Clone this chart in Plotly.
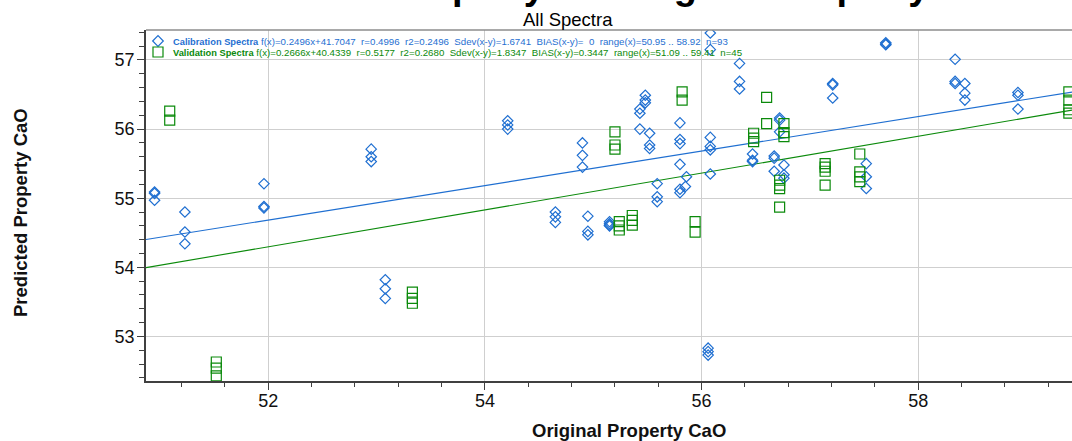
import plotly.graph_objects as go

# Calibration set: original (reference) CaO vs predicted CaO
cal_x = [50.95, 50.95, 50.95, 51.23, 51.23, 51.23, 51.96, 51.96, 51.96,
         52.95, 52.95, 52.95, 53.08, 53.08, 53.08, 54.21, 54.21, 54.21,
         54.65, 54.65, 54.65, 54.90, 54.90, 54.90, 54.95, 54.95, 54.95,
         55.15, 55.15, 55.15, 55.15, 55.43, 55.43, 55.43, 55.48, 55.48, 55.48,
         55.52, 55.52, 55.52, 55.59, 55.59, 55.59, 55.80, 55.80, 55.80, 55.80,
         55.86, 55.85, 55.80, 55.80, 56.06, 56.06, 56.06,
         56.08, 56.08, 56.08, 56.08, 56.08, 56.08, 56.35, 56.35, 56.35,
         56.47, 56.47, 56.47, 56.67, 56.67, 56.67, 56.72, 56.72, 56.72,
         56.76, 56.76, 56.76, 57.21, 57.21, 57.21, 57.52, 57.52, 57.52,
         57.70, 57.70, 57.70, 58.34, 58.34, 58.34, 58.43, 58.43, 58.43,
         58.92, 58.92, 58.92]
cal_y = [55.09, 55.07, 54.97, 54.80, 54.51, 54.34, 55.21, 54.88, 54.86,
         55.71, 55.60, 55.53, 53.82, 53.69, 53.55, 56.12, 56.06, 56.00,
         54.80, 54.73, 54.65, 55.80, 55.62, 55.45, 54.74, 54.52, 54.47,
         54.66, 54.63, 54.61, 54.60, 56.29, 56.23, 56.00, 56.49, 56.42, 56.38,
         55.94, 55.77, 55.72, 55.21, 55.02, 54.95, 56.09, 55.85, 55.79, 55.49,
         55.31, 55.17, 55.13, 55.08, 52.83, 52.78, 52.73,
         57.39, 57.15, 55.88, 55.75, 55.70, 55.35, 56.95, 56.69, 56.58,
         55.64, 55.55, 55.53, 55.61, 55.58, 55.39, 56.16, 56.13, 55.96,
         55.48, 55.34, 55.29, 56.66, 56.64, 56.45, 55.50, 55.31, 55.14,
         57.25, 57.23, 57.22, 57.01, 56.69, 56.66, 56.66, 56.52, 56.42,
         56.53, 56.49, 56.29]

# Validation set
val_x = [51.09, 51.09, 51.52, 51.52, 51.52, 53.33, 53.33, 53.33,
         55.20, 55.20, 55.20, 55.24, 55.24, 55.24, 55.36, 55.36, 55.36,
         55.94, 55.94, 55.82, 55.82, 56.60, 56.60, 56.48, 56.48, 56.48,
         56.76, 56.76, 56.76, 56.72, 56.72, 56.72, 56.72,
         57.14, 57.14, 57.14, 57.14, 57.46, 57.46, 57.46, 57.46,
         59.39, 59.39, 59.39, 59.39]
val_y = [56.26, 56.13, 52.63, 52.54, 52.43, 53.64, 53.55, 53.48,
         55.96, 55.77, 55.71, 54.66, 54.60, 54.54, 54.75, 54.68, 54.61,
         54.66, 54.51, 56.54, 56.42, 56.46, 56.08, 55.94, 55.87, 55.82,
         56.08, 55.95, 55.89, 55.26, 55.19, 55.14, 54.87,
         55.50, 55.45, 55.39, 55.19, 55.64, 55.38, 55.31, 55.24,
         56.54, 56.42, 56.28, 56.23]

# Regression coefficients reported for each set
cal_slope, cal_icept = 0.2496, 41.7047
val_slope, val_icept = 0.2666, 40.4339

cal_stats = ("f(x)=0.2496x+41.7047  r=0.4996  r2=0.2496  Sdev(x-y)=1.6741  "
             "BIAS(x-y)=  0  range(x)=50.95 .. 58.92  n=93")
val_stats = ("f(x)=0.2666x+40.4339  r=0.5177  r2=0.2680  Sdev(x-y)=1.8347  "
             "BIAS(x-y)=0.3447  range(x)=51.09 .. 59.41  n=45")

x_range = [50.871, 59.419]
y_range = [52.355, 57.434]

BLUE = "#1f6fd1"
GREEN = "#0b8a0b"
FONT = "Liberation Sans, Arial, sans-serif"


def nb(s):
    # keep runs of spaces visible in SVG text
    return s.replace(" ", "\u00a0")


fig = go.Figure()

for slope, icept, col in [(cal_slope, cal_icept, BLUE), (val_slope, val_icept, GREEN)]:
    fig.add_trace(go.Scatter(
        x=x_range, y=[slope * v + icept for v in x_range],
        mode="lines", line=dict(color=col, width=1.1),
        showlegend=False, hoverinfo="skip"))

fig.add_trace(go.Scatter(
    x=cal_x, y=cal_y, mode="markers", name="Calibration Spectra",
    marker=dict(symbol="diamond-open", size=8, color=BLUE, line=dict(width=1.2, color=BLUE)),
    showlegend=False))
fig.add_trace(go.Scatter(
    x=val_x, y=val_y, mode="markers", name="Validation Spectra",
    marker=dict(symbol="square-open", size=10, color=GREEN, line=dict(width=1.2, color=GREEN)),
    showlegend=False))

axis_common = dict(
    showline=True, linecolor="#404040", linewidth=1.5,
    showgrid=True, gridcolor="#cfcfcf", gridwidth=1,
    zeroline=False, ticks="outside", ticklen=7, tickwidth=1, tickcolor="#404040",
    tickfont=dict(family=FONT, size=18, color="#111111"),
)

fig.update_xaxes(range=x_range, tick0=52, dtick=2,
                 minor=dict(dtick=0.4, tick0=52, ticks="outside", ticklen=4,
                            tickcolor="#404040", showgrid=False),
                 ticklabelstandoff=-4, **axis_common)
fig.update_yaxes(range=y_range, tick0=53, dtick=1,
                 minor=dict(dtick=0.2, tick0=53, ticks="outside", ticklen=5,
                            tickcolor="#404040", showgrid=False),
                 ticklabelstandoff=-1, **axis_common)

PL, PW, PT, PH = 146, 926, 30, 351


def px(xp):
    return (xp - PL) / PW


def py(yp):
    return (PT + PH - yp) / PH


ann = []
ann.append(dict(text="<b>Predicted Property vs. Original Property</b>",
                x=px(567), y=py(9), xref="paper", yref="paper",
                xanchor="center", yanchor="bottom", showarrow=False,
                font=dict(family=FONT, size=38, color="#000000")))
ann.append(dict(text="All Spectra", x=px(568), y=py(32), xref="paper", yref="paper",
                xanchor="center", yanchor="bottom", showarrow=False,
                font=dict(family=FONT, size=18.5, color="#000000")))
ann.append(dict(text="<b>Original Property CaO</b>", x=px(629), y=py(430),
                xref="paper", yref="paper", xanchor="center", yanchor="middle",
                showarrow=False, font=dict(family=FONT, size=18.5, color="#111111")))
ann.append(dict(text="<b>Predicted Property CaO</b>", x=px(21), y=py(213),
                xref="paper", yref="paper", xanchor="center", yanchor="middle",
                textangle=-90, showarrow=False,
                font=dict(family=FONT, size=18.5, color="#111111")))

# legend block: series name + fit statistics, one row per set
legend_rows = [("Calibration Spectra", cal_stats, BLUE),
               ("Validation Spectra", val_stats, GREEN)]
rows = []
for name, stats, col in legend_rows:
    rows.append(
        f"<span style='color:{col};font-size:9.7px'>"
        f"<b><span style='font-size:9.3px'>{nb(name)}</span></b>\u00a0{nb(stats)}</span>")
ROW_Y = [41, 52]
ann.append(dict(text="<br>".join(rows), x=px(171), y=py(sum(ROW_Y) / 2),
                xref="paper", yref="paper",
                xanchor="left", yanchor="middle", align="left", showarrow=False,
                font=dict(family=FONT, size=(ROW_Y[1] - ROW_Y[0]) / 1.3, color=BLUE)))

# legend keys drawn with pixel-sized outlines next to each row
shapes = [dict(type="line", xref="paper", yref="paper", x0=0, x1=1, y0=1, y1=1,
               line=dict(color="#8c8c8c", width=1.5))]
key_paths = ["M -5.3,0 L 0,5.3 L 5.3,0 L 0,-5.3 Z",
             "M -5,-5 L 5,-5 L 5,5 L -5,5 Z"]
for path, (_, _, col), ry in zip(key_paths, legend_rows, ROW_Y):
    shapes.append(dict(type="path", path=path, xref="paper", yref="paper",
                       xsizemode="pixel", ysizemode="pixel",
                       xanchor=px(158), yanchor=py(ry),
                       line=dict(color=col, width=1.2), fillcolor="rgba(0,0,0,0)"))

fig.update_layout(
    width=1072, height=441,
    margin=dict(l=PL, r=0, t=PT, b=441 - PT - PH),
    paper_bgcolor="white", plot_bgcolor="white",
    annotations=ann,
    shapes=shapes,
    showlegend=False,
)

fig.write_html("out.html")
